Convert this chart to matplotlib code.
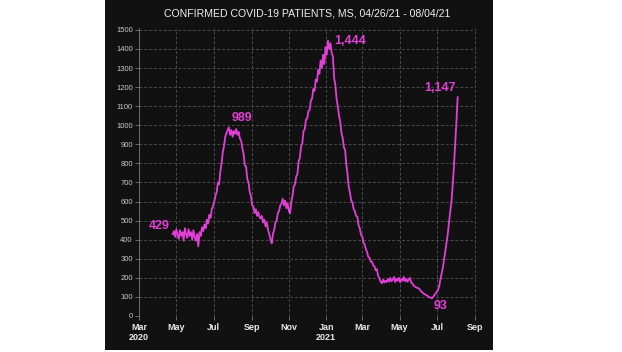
import matplotlib
matplotlib.use("Agg")
import matplotlib.pyplot as plt
import matplotlib.dates as mdates
from matplotlib.patches import Rectangle
import pandas as pd

plt.rcParams['font.family'] = ['Liberation Sans', 'DejaVu Sans']

title = "CONFIRMED COVID-19 PATIENTS, MS, 04/26/21 - 08/04/21"
start_date = "2020-04-25"
step_days = 2
patients = [
    429, 445, 415, 455, 425, 405, 450, 420, 440, 395,
    460, 430, 410, 455, 420, 440, 400, 450, 415, 395,
    430, 365, 440, 420, 465, 445, 480, 460, 505, 485,
    530, 515, 560, 575, 600, 630, 650, 700, 690, 760,
    800, 860, 890, 940, 960, 975, 989, 950, 975, 940,
    970, 955, 980, 950, 965, 930, 920, 880, 850, 790,
    785, 720, 700, 650, 630, 580, 575, 540, 560, 525,
    545, 520, 510, 525, 490, 505, 470, 490, 450, 430,
    400, 381, 430, 450, 490, 500, 540, 550, 580, 590,
    615, 580, 605, 565, 590, 550, 538, 600, 630, 680,
    690, 730, 745, 810, 830, 890, 905, 970, 980, 1030,
    1035, 1075, 1080, 1130, 1140, 1190, 1180, 1240, 1230, 1290,
    1270, 1340, 1300, 1370, 1320, 1410, 1370, 1444, 1400, 1430,
    1380, 1360, 1250, 1210, 1140, 1100, 1050, 1020, 960, 935,
    885, 870, 795, 740, 675, 645, 605, 595, 560, 550,
    525, 520, 475, 460, 425, 418, 385, 375, 350, 335,
    310, 305, 285, 285, 265, 260, 240, 245, 210, 200,
    180, 172, 190, 175, 185, 178, 195, 180, 200, 182,
    190, 205, 178, 195, 185, 200, 176, 195, 185, 205,
    182, 195, 180, 190, 200, 175, 170, 160, 155, 150,
    148, 145, 140, 130, 125, 118, 115, 110, 108, 102,
    98, 96, 93, 100, 110, 118, 128, 136, 160, 195,
    225, 256, 300, 345, 390, 434, 495, 550, 606, 690,
    790, 900, 1020, 1147,
]
labelled = [("429", 0), ("989", 46), ("1,444", 127), ("93", 212), ("1,147", 233)]
yticks = list(range(0, 1600, 100))
x_start = "2020-03-01"
x_end = "2021-09-01"

dates = pd.date_range(start_date, periods=len(patients), freq=f"{step_days}D")

line_color = "#e23fd6"
bg = "#111111"

fig = plt.figure(figsize=(6.22, 3.52), dpi=100, facecolor="white")
fig.patches.append(Rectangle((105 / 622, 2 / 352), 388 / 622, 350 / 352,
                             transform=fig.transFigure, facecolor=bg,
                             edgecolor="none", zorder=-5))
ax = fig.add_axes([139 / 622, 1 - 316 / 352, (476 - 139) / 622, (316 - 28) / 352])
ax.set_zorder(1)
ax.set_facecolor(bg)

ax.plot(dates, patients, color=line_color, linewidth=1.3, zorder=3)

ax.set_xlim(pd.Timestamp(x_start), pd.Timestamp(x_end) + pd.Timedelta(days=2))
ax.set_ylim(0, 1510)
ax.set_yticks(yticks)
ax.yaxis.set_major_formatter(matplotlib.ticker.FuncFormatter(lambda v, p: f"{int(v)}"))

ax.xaxis.set_major_locator(mdates.MonthLocator(bymonth=[1, 3, 5, 7, 9, 11]))

def fmt(x, pos):
    d = mdates.num2date(x)
    s = d.strftime("%b")
    if d.month == 1 or (d.year == 2020 and d.month == 3):
        s += "\n" + d.strftime("%Y")
    return s

ax.xaxis.set_major_formatter(matplotlib.ticker.FuncFormatter(fmt))

ax.grid(True, color="#4a4a4a", linestyle=(0, (3, 2)), linewidth=0.7)
for s in ["top", "right", "bottom"]:
    ax.spines[s].set_visible(False)
ax.spines["left"].set_color("#777777")
ax.spines["left"].set_linewidth(0.6)
ax.tick_params(axis="y", colors="#777777", labelcolor="#c8c8c8", labelsize=5.5,
               length=3, width=0.6, pad=1.5)
ax.tick_params(axis="x", colors="#777777", labelcolor="#e8e8e8", labelsize=6.5,
               length=3, width=0.6, pad=2)
for lab in ax.get_xticklabels():
    lab.set_fontweight("bold")

ax.set_title(title, color="#eeeeee", fontsize=7.6, pad=8)

offsets = {"429": (-3, 8, "right"), "989": (3, 9, "left"), "1,444": (6, 0, "left"),
           "93": (9, -8, "center"), "1,147": (-2, 9, "right")}
for text, idx in labelled:
    dx, dy, ha = offsets[text]
    ax.annotate(text, xy=(dates[idx], patients[idx]), xytext=(dx, dy),
                textcoords="offset pixels", ha=ha, va="center",
                color=line_color, fontsize=9, fontweight="bold", zorder=4)

fig.savefig("out.png", dpi=100, facecolor="white")
